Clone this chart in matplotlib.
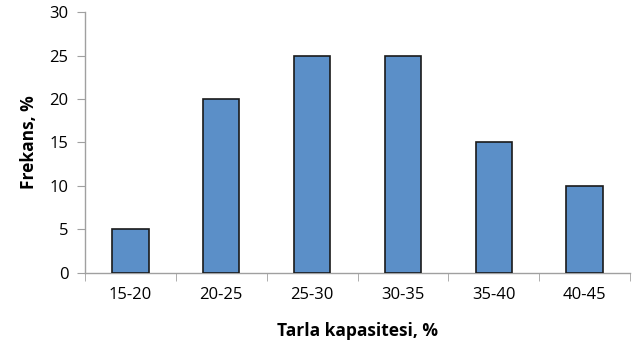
import matplotlib.pyplot as plt
import numpy as np

plt.rcParams['font.family'] = ['Open Sans', 'DejaVu Sans']

araliklar = ['15-20', '20-25', '25-30', '30-35', '35-40', '40-45']
frekans = [5, 20, 25, 25, 15, 10]

fig = plt.figure(figsize=(6.39, 3.45), dpi=100)
ax = fig.add_axes([0.133, 0.209, 0.853, 0.756])

x = np.arange(len(araliklar))
ax.bar(x, frekans, width=0.4, color='#5B8FC8', edgecolor='#1a1a1a', linewidth=1.2, zorder=3)

ax.set_xlim(-0.5, len(araliklar) - 0.5)
ax.set_ylim(0, 30)
ax.set_yticks(np.arange(0, 31, 5))
ax.set_xticks(x)
ax.set_xticklabels(araliklar)
ax.set_xticks(np.arange(-0.5, len(araliklar)), minor=True)

for s in ['top', 'right']:
    ax.spines[s].set_visible(False)
for s in ['left', 'bottom']:
    ax.spines[s].set_color('#a0a0a0')
    ax.spines[s].set_linewidth(1.0)

ax.tick_params(axis='x', which='major', length=0, pad=10, labelsize=12)
ax.tick_params(axis='x', which='minor', length=6, color='#a0a0a0', direction='out')
ax.tick_params(axis='y', length=6, color='#a0a0a0', pad=6, labelsize=12)

ax.set_xlabel('Tarla kapasitesi, %', fontsize=12.5, fontweight='bold', labelpad=14)
ax.set_ylabel('Frekans, %', fontsize=12.5, fontweight='bold', labelpad=8)

fig.savefig('out.png', dpi=100)
